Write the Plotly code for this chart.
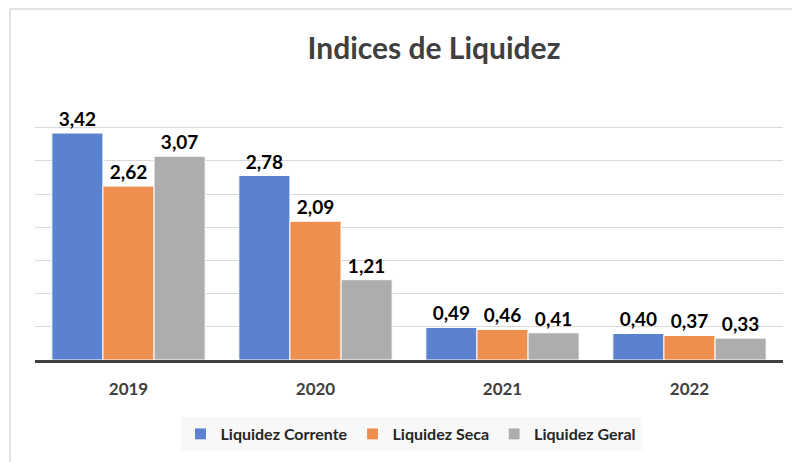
import plotly.graph_objects as go

categories = ["2019", "2020", "2021", "2022"]
liq_corrente = [3.42, 2.78, 0.49, 0.40]
liq_seca = [2.62, 2.09, 0.46, 0.37]
liq_geral = [3.07, 1.21, 0.41, 0.33]
series_names = ["Liquidez Corrente", "Liquidez Seca", "Liquidez Geral"]
colors = ["#5B82CE", "#EE8E4F", "#ADADAD"]

W, H = 800, 462
OFF = 8  # page body offset
# plot area in page pixels
PL, PR, PT, PB = 35, 783, 94, 360
ml = PL - OFF
mr = W + OFF - PR
mt = PT - OFF
mb = H + OFF - PB
pw = PR - PL
ph = PB - PT

font_family = "Lato, 'Open Sans', sans-serif"

fig = go.Figure()
all_series = [liq_corrente, liq_seca, liq_geral]
for name, vals, col in zip(series_names, all_series, colors):
    fig.add_trace(go.Bar(
        x=categories, y=vals, name=name,
        marker=dict(color=col, line=dict(color="white", width=1)),
        text=[f"{v:.2f}".replace(".", ",") for v in vals],
        textposition="outside", cliponaxis=False,
        textfont=dict(family=font_family, size=19, color="#000000", weight="bold"),
    ))

def px_x(x):
    return (x - PL) / pw

def px_y(y):
    return (PB - y) / ph

shapes = [
    dict(type="line", xref="paper", yref="paper", x0=px_x(10), x1=px_x(800),
         y0=px_y(9), y1=px_y(9), line=dict(color="#D9D9D9", width=1.5)),
    dict(type="line", xref="paper", yref="paper", x0=px_x(10), x1=px_x(10),
         y0=px_y(9), y1=px_y(470), line=dict(color="#D9D9D9", width=1.5)),
]

fig.update_layout(
    width=W, height=H,
    margin=dict(l=ml, r=mr, t=mt, b=mb, autoexpand=False),
    paper_bgcolor="white", plot_bgcolor="white",
    barmode="group", bargap=0.18, bargroupgap=0,
    title=dict(text="Indices de Liquidez", x=(434 - OFF) / W, y=1 - (48 - OFF) / H,
               xref="container", yref="container", xanchor="center", yanchor="middle",
               font=dict(family=font_family, size=30, color="#404040", weight="bold")),
    xaxis=dict(type="category", showline=True, linecolor="#404040", linewidth=3,
               ticks="outside", ticklen=12, tickcolor="rgba(0,0,0,0)",
               tickfont=dict(family=font_family, size=17, color="#404040", weight="bold"),
               showgrid=False),
    yaxis=dict(range=[0, 4.008], tick0=0, dtick=0.5, showticklabels=False, showgrid=True,
               gridcolor="#D9D9D9", gridwidth=1, zeroline=False),
    legend=dict(orientation="h", x=px_x(411), y=px_y(434), xanchor="center", yanchor="middle",
                bgcolor="#F8F8F8", font=dict(family=font_family, size=16, color="#262626", weight="bold"),
                itemwidth=30, traceorder="normal"),
    shapes=shapes,
    showlegend=True,
)

fig.write_html("out.html")
